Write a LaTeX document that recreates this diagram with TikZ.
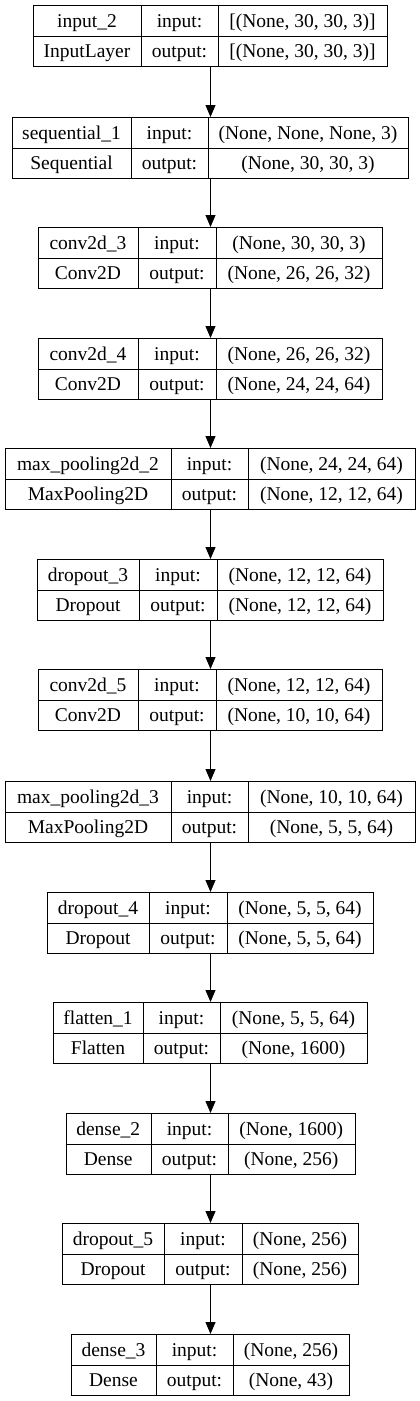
\documentclass[tikz,border=0pt]{standalone}
\usepackage{fontspec}
\setmainfont{Liberation Serif}
\usetikzlibrary{arrows.meta}

\newcommand\cellfont{\fontsize{19.5}{23}\selectfont}

\tikzset{
  layerbox/.style={draw, line width=1pt, inner sep=0pt, anchor=north west, minimum height=61pt},
  grid/.style={line width=1pt},
  celltext/.style={anchor=base, inner sep=0pt, font=\cellfont},
  flow/.style={line width=1pt, -{Triangle[length=12pt,width=10pt]}},
}

\begin{document}
\begin{tikzpicture}[x=1pt, y=-1pt, line cap=butt, line join=miter]
\useasboundingbox (0,0) rectangle (420,1401);

%-----------------------
% layers: name / top / column edges / labels / shapes
%-----------------------
\foreach \id/\top/\xa/\xb/\xc/\xd/\lname/\lcls/\shin/\shout in {
  in2/5/33/141/218/387/input\_2/InputLayer/{[(None, 30, 30, 3)]}/{[(None, 30, 30, 3)]},
  seq1/117/12/131/208/408/sequential\_1/Sequential/{(None, None, None, 3)}/{(None, 30, 30, 3)},
  conv3/227/38/138/216/382/conv2d\_3/Conv2D/{(None, 30, 30, 3)}/{(None, 26, 26, 32)},
  conv4/338/38/138/216/382/conv2d\_4/Conv2D/{(None, 26, 26, 32)}/{(None, 24, 24, 64)},
  pool2/448/5/171/248/415/max\_pooling2d\_2/MaxPooling2D/{(None, 24, 24, 64)}/{(None, 12, 12, 64)},
  drop3/559/37/139/217/383/dropout\_3/Dropout/{(None, 12, 12, 64)}/{(None, 12, 12, 64)},
  conv5/669/38/138/216/382/conv2d\_5/Conv2D/{(None, 12, 12, 64)}/{(None, 10, 10, 64)},
  pool3/781/5/171/248/415/max\_pooling2d\_3/MaxPooling2D/{(None, 10, 10, 64)}/{(None, 5, 5, 64)},
  drop4/892/47/149/227/373/dropout\_4/Dropout/{(None, 5, 5, 64)}/{(None, 5, 5, 64)},
  flat1/1002/53/143/220/367/flatten\_1/Flatten/{(None, 5, 5, 64)}/{(None, 1600)},
  dense2/1113/65.5/151/228/354.5/dense\_2/Dense/{(None, 1600)}/{(None, 256)},
  drop5/1223/62/164/242/358/dropout\_5/Dropout/{(None, 256)}/{(None, 256)},
  dense3/1334/71/156/233/349/dense\_3/Dense/{(None, 256)}/{(None, 43)}}{
  % outer box
  \node[layerbox, minimum width={(\xd-\xa)*1pt}] (\id) at (\xa,\top) {};
  % inner grid
  \draw[grid] (\xb,\top) -- ++(0,61);
  \draw[grid] (\xc,\top) -- ++(0,61);
  \draw[grid] (\xa,{\top+31}) -- (\xd,{\top+31});
  % cell texts
  \node[celltext] at ({(\xa+\xb)/2},{\top+22}) {\lname};
  \node[celltext] at ({(\xb+\xc)/2},{\top+22}) {input:};
  \node[celltext] at ({(\xc+\xd)/2},{\top+22}) {\shin};
  \node[celltext] at ({(\xa+\xb)/2},{\top+52}) {\lcls};
  \node[celltext] at ({(\xb+\xc)/2},{\top+52}) {output:};
  \node[celltext] at ({(\xc+\xd)/2},{\top+52}) {\shout};
}

%-----------------------
% connectors
%-----------------------
\foreach \a/\b in {in2/seq1, seq1/conv3, conv3/conv4, conv4/pool2, pool2/drop3,
  drop3/conv5, conv5/pool3, pool3/drop4, drop4/flat1, flat1/dense2,
  dense2/drop5, drop5/dense3}
  \draw[flow] (\a.south) -- (\b.north);

\end{tikzpicture}
\end{document}
